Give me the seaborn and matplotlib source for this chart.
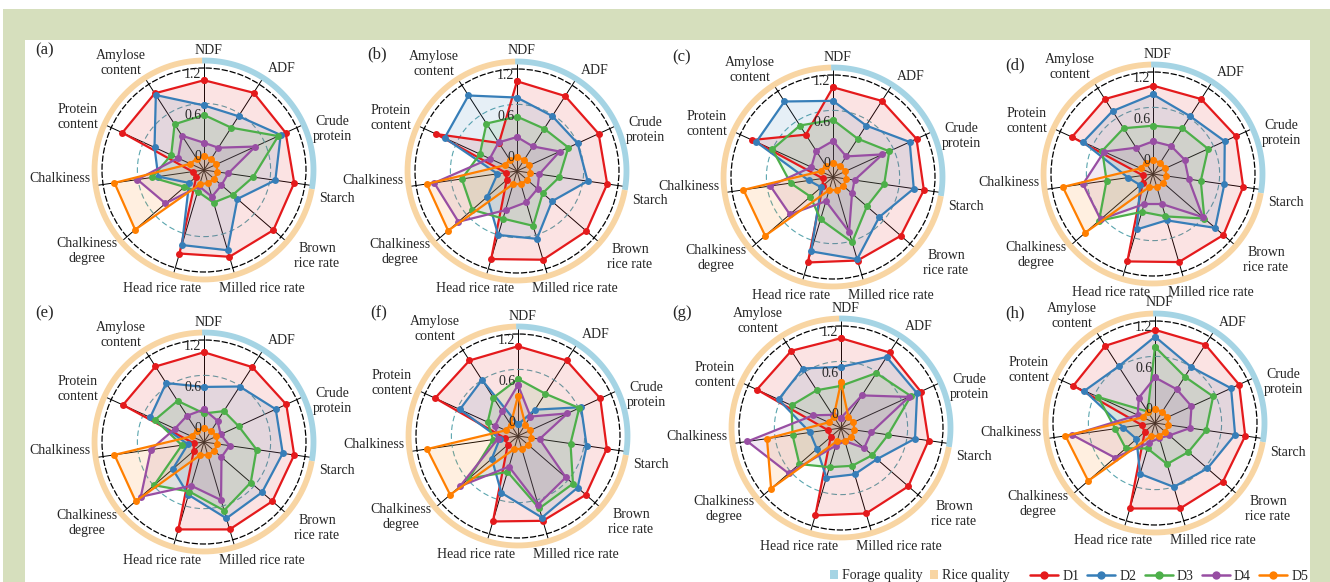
import numpy as np
import pandas as pd
import matplotlib
matplotlib.use("Agg")
import matplotlib.pyplot as plt
import seaborn as sns
from matplotlib.patches import Rectangle, Patch
from matplotlib.lines import Line2D

sns.set_theme(style="white")
plt.rcParams['font.family'] = ['Liberation Serif', 'DejaVu Serif']

# Axes of every radar, clockwise from the top
categories = ["NDF", "ADF", "Crude\nprotein", "Starch", "Brown\nrice rate",
              "Milled rice rate", "Head rice rate", "Chalkiness\ndegree",
              "Chalkiness", "Protein\ncontent", "Amylose\ncontent"]
series_names = ["D1", "D2", "D3", "D4", "D5"]
panel_letters = ["(a)", "(b)", "(c)", "(d)", "(e)", "(f)", "(g)", "(h)"]
r_ticks = [0, 0.6, 1.2]

# values per panel / series (same order as categories)
a_d1 = [1.12, 1.15, 1.12, 1.14, 1.15, 1.13, 1.08, -0.05, -0.03, 1.12, 1.14]
a_d2 = [0.75, 0.74, 1.04, 0.86, 0.45, 1.03, 0.95, 0.09, 0.48, 0.60, 1.11]
a_d3 = [0.61, 0.54, 1.00, 0.53, 0.36, 0.30, 0.13, 0.18, 0.57, 0.33, 0.60]
a_d4 = [0.20, 0.19, 0.63, 0.16, 0.14, 0.21, 0.05, 0.55, 0.79, 0.22, 0.40]
a_d5 = [0.00, 0.00, 0.00, 0.00, 0.00, 0.00, 0.02, 1.14, 1.13, 0.02, 0.00]

b_d1 = [1.12, 1.11, 1.12, 1.14, 1.15, 1.16, 1.15, 0.00, -0.03, 1.11, 0.29]
b_d2 = [0.88, 0.76, 0.78, 0.85, 0.48, 0.84, 0.78, 0.38, 0.09, 0.97, 1.12]
b_d3 = [0.60, 0.54, 0.63, 0.43, 0.30, 0.64, 0.53, 0.67, 0.62, 0.40, 0.63]
b_d4 = [0.30, 0.23, 0.49, 0.13, 0.20, 0.28, 0.40, 0.94, 1.03, 0.24, 0.30]
b_d5 = [0.00, 0.00, 0.00, 0.00, 0.00, 0.00, 0.00, 1.14, 1.14, 0.00, 0.00]

c_d1 = [1.12, 1.13, 1.15, 1.15, 1.12, 1.08, 1.11, 0.00, -0.05, 1.11, 0.54]
c_d2 = [0.92, 0.70, 1.04, 1.00, 0.70, 1.06, 0.94, 0.03, 0.16, 1.04, 1.12]
c_d3 = [0.64, 0.47, 0.71, 0.56, 0.46, 0.80, 0.45, 0.24, 0.43, 0.78, 0.70]
c_d4 = [0.33, 0.16, 0.60, 0.12, 0.17, 0.64, 0.17, 0.64, 0.73, 0.15, 0.26]
c_d5 = [0.00, 0.00, 0.00, 0.00, 0.00, 0.00, 0.00, 1.12, 1.13, 0.00, 0.00]

d_d1 = [1.10, 1.11, 1.14, 1.14, 1.17, 1.15, 1.14, 0.00, -0.05, 1.11, 1.11]
d_d2 = [0.97, 0.81, 0.96, 0.86, 1.01, 0.51, 0.65, 0.05, 0.17, 0.93, 0.90]
d_d3 = [0.51, 0.60, 0.69, 0.51, 0.80, 0.45, 0.38, 0.85, 0.49, 0.62, 0.60]
d_d4 = [0.28, 0.29, 0.31, 0.33, 0.77, 0.26, 0.26, 0.82, 0.84, 0.59, 0.26]
d_d5 = [0.00, 0.00, 0.00, 0.00, 0.00, 0.00, 0.00, 1.12, 1.14, 0.00, 0.00]

e_d1 = [1.12, 1.11, 1.13, 1.14, 1.13, 1.14, 1.14, 0.00, -0.05, 1.11, 1.12]
e_d2 = [0.61, 0.77, 0.96, 0.97, 0.93, 0.97, 0.61, 0.41, 0.04, 0.67, 0.83]
e_d3 = [0.22, 0.34, 0.36, 0.58, 0.71, 0.85, 0.56, 0.77, 0.13, 0.59, 0.52]
e_d4 = [0.28, 0.17, 0.07, 0.18, 0.14, 0.69, 0.47, 1.03, 0.59, 0.27, 0.26]
e_d5 = [0.00, 0.00, 0.00, 0.00, 0.00, 0.00, 0.00, 1.13, 1.13, 0.00, 0.00]

f_d1 = [1.12, 1.12, 1.13, 1.12, 1.12, 1.10, 1.11, 0.00, 0.00, 1.14, 1.12]
f_d2 = [-0.03, 0.26, 0.82, 0.82, 0.96, 1.05, 0.67, 0.31, 0.07, 0.74, 0.78]
f_d3 = [0.64, 0.54, 0.79, 0.58, 0.87, 0.91, 0.35, 0.76, 0.17, 0.29, 0.47]
f_d4 = [0.55, 0.14, 0.60, 0.12, 0.73, 0.85, 0.27, 0.93, 0.10, 0.17, 0.23]
f_d5 = [0.39, 0.00, 0.00, 0.00, 0.00, 0.00, 0.00, 1.12, 1.15, 0.00, 0.00]

g_d1 = [1.12, 1.12, 1.09, 1.10, 1.11, 1.11, 1.14, 0.00, 0.00, 1.16, 1.15]
g_d2 = [0.70, 1.04, 1.03, 0.90, 0.50, 0.51, 0.56, 0.27, 0.26, 0.81, 0.84]
g_d3 = [0.42, 0.76, 0.93, 0.50, 0.41, 0.38, 0.40, 0.61, 0.52, 0.60, 0.46]
g_d4 = [-0.05, 0.37, 0.90, 0.25, 0.25, 0.00, 0.07, 0.82, 1.19, 0.25, 0.03]
g_d5 = [0.47, 0.00, 0.00, 0.00, 0.00, 0.00, 0.00, 1.16, 0.90, 0.00, 0.00]

h_d1 = [1.17, 1.17, 1.16, 1.14, 1.12, 1.11, 1.11, 0.00, 0.00, 1.12, 1.15]
h_d2 = [1.07, 0.78, 1.03, 0.99, 0.82, 0.78, 0.58, 0.16, 0.27, 0.94, 0.79]
h_d3 = [0.92, 0.61, 0.74, 0.56, 0.45, 0.43, 0.19, 0.37, 0.39, 0.72, 0.00]
h_d4 = [0.47, 0.39, 0.39, 0.32, 0.08, 0.03, 0.10, 0.58, 1.03, 0.08, 0.24]
h_d5 = [0.00, 0.00, 0.00, 0.00, 0.00, 0.00, 0.00, 1.10, 1.13, 0.00, 0.00]

panels = [
    [a_d1, a_d2, a_d3, a_d4, a_d5],
    [b_d1, b_d2, b_d3, b_d4, b_d5],
    [c_d1, c_d2, c_d3, c_d4, c_d5],
    [d_d1, d_d2, d_d3, d_d4, d_d5],
    [e_d1, e_d2, e_d3, e_d4, e_d5],
    [f_d1, f_d2, f_d3, f_d4, f_d5],
    [g_d1, g_d2, g_d3, g_d4, g_d5],
    [h_d1, h_d2, h_d3, h_d4, h_d5],
]

# panel centres in pixels and where the letters go
centers = [(204, 170), (517, 171), (833, 177), (1153, 174),
           (204, 442), (518, 436), (841, 428), (1155, 423)]
letter_pos = [(35, 50), (367, 54), (672, 57), (1005, 65),
              (35, 313), (370, 313), (672, 313), (1005, 313)]
# label centres relative to the radar centre (px, y down)
label_off = [(4, -120), (78, -101), (128, -41), (133, 29), (113, 86), (58, 118),
             (-42, 118), (-117, 81), (-144, 9), (-126, -53), (-83, -107)]

colors = sns.color_palette("Set1", 5)
pal = dict(zip(series_names, colors))
forage_col = "#a5d4e4"
rice_col = "#f8d5a3"
teal = "#5aa5ae"

W, H = 1330, 582
R = 102  # px radius of the dashed outer circle
fig = plt.figure(figsize=(W / 100, H / 100), dpi=100)
fig.patch.set_facecolor("white")
fig.add_artist(Rectangle((3 / W, 0), (W - 3) / W, (H - 9) / H, transform=fig.transFigure,
                         facecolor="#d6dfbd", edgecolor="none", zorder=-10))
fig.add_artist(Rectangle((25 / W, 0), (1310 - 25) / W, (H - 40) / H, transform=fig.transFigure,
                         facecolor="white", edgecolor="none", zorder=-9))

n = len(categories)
theta = np.arange(n) * 2 * np.pi / n
rmin, rmax = -0.2, 1.3

for k, vals in enumerate(panels):
    cx, cy = centers[k]
    ax = fig.add_axes([(cx - R) / W, 1 - (cy + R) / H, 2 * R / W, 2 * R / H], polar=True)
    ax.set_theta_zero_location("N")
    ax.set_theta_direction(-1)
    ax.patch.set_alpha(0)

    # spokes and circles
    for t in theta:
        ax.plot([t, t], [rmin, 1.37], color="black", lw=0.7, clip_on=False, zorder=1)
    tt = np.linspace(0, 2 * np.pi, 300)
    ax.plot(tt, np.full_like(tt, 0.78), color=teal, lw=0.8, ls=(0, (5, 3)), zorder=1)

    # group arcs
    t_blue = np.linspace(np.deg2rad(-1), np.deg2rad(100), 100)
    t_or = np.linspace(np.deg2rad(100), np.deg2rad(359), 200)
    ax.plot(t_blue, np.full_like(t_blue, 1.41), color=forage_col, lw=4.2, clip_on=False,
            solid_capstyle="butt")
    ax.plot(t_or, np.full_like(t_or, 1.41), color=rice_col, lw=4.2, clip_on=False,
            solid_capstyle="butt")

    rows = []
    for name, v in zip(series_names, vals):
        for j, i in enumerate(list(range(n)) + [0]):
            rows.append({"theta": theta[i] if j < n else 2 * np.pi,
                         "value": v[i], "series": name})
    df = pd.DataFrame(rows)

    for name in series_names:
        sub = df[df.series == name]
        ax.fill(sub.theta, sub.value, color=pal[name], alpha=0.12, lw=0, zorder=2)
    sns.lineplot(data=df, x="theta", y="value", hue="series", palette=pal,
                 hue_order=series_names, sort=False, estimator=None, marker="o",
                 markersize=5, markeredgewidth=0, lw=1.6, legend=False, ax=ax, zorder=3)

    ax.set_ylim(rmin, rmax)
    ax.set_xticks([])
    ax.set_yticks([])
    ax.set_xlabel("")
    ax.set_ylabel("")
    ax.grid(False)
    ax.spines["polar"].set_linestyle((0, (4, 2.5)))
    ax.spines["polar"].set_linewidth(0.9)
    ax.spines["polar"].set_color("black")

    for v in r_ticks:
        ax.annotate(f"{v:g}", xy=(0, v), xytext=(-2, 0), textcoords="offset points",
                    ha="right", va="center", fontsize=10, zorder=5)

    for (dx, dy), lab in zip(label_off, categories):
        ax.annotate(lab, xy=(0, rmin), xytext=(dx, -dy), textcoords="offset pixels",
                    ha="center", va="center", fontsize=10, linespacing=1.2,
                    multialignment="center", annotation_clip=False)

    lx, ly = letter_pos[k]
    fig.text(lx / W, 1 - ly / H, panel_letters[k], fontsize=12, ha="left", va="center")

# legends
h1 = [Patch(facecolor=forage_col, edgecolor="none"), Patch(facecolor=rice_col, edgecolor="none")]
fig.legend(h1, ["Forage quality", "Rice quality"], loc="center left",
           bbox_to_anchor=(830 / W, 1 - 576 / H), ncol=2, frameon=False, fontsize=10,
           handlelength=0.6, handleheight=0.6, handletextpad=0.3, columnspacing=0.45,
           borderpad=0, borderaxespad=0)
h2 = [Line2D([], [], color=pal[s], marker="o", markersize=6, lw=1.8, markeredgewidth=0)
      for s in series_names]
fig.legend(h2, series_names, loc="center right", bbox_to_anchor=(1308 / W, 1 - 576 / H),
           ncol=5, frameon=False, fontsize=10, handlelength=2.0, handletextpad=0.3,
           columnspacing=0.6, borderpad=0, borderaxespad=0)

fig.savefig("out.png", dpi=100)
